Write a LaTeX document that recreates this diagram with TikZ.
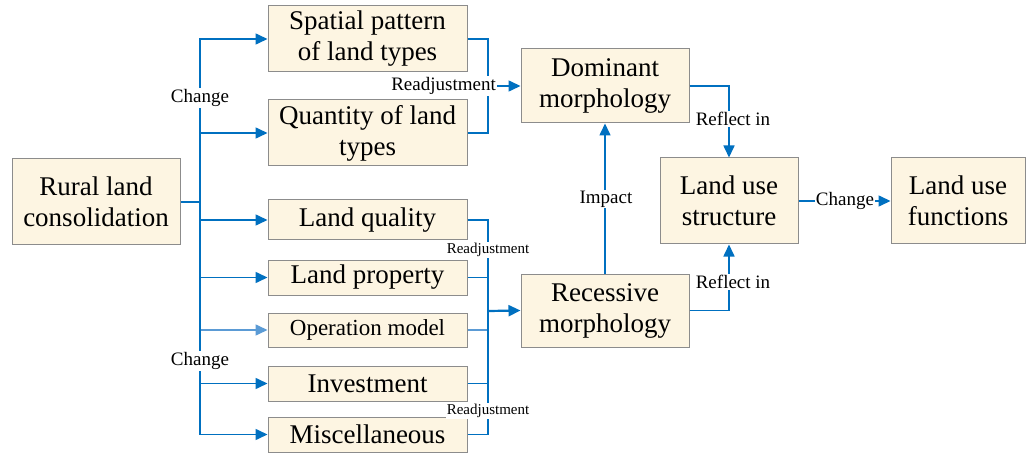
\documentclass[tikz,border=0pt]{standalone}
\usepackage{fontspec}
\setmainfont{Liberation Serif}
\newfontfamily\tnr{Liberation Serif}
\usetikzlibrary{arrows.meta}
\definecolor{boxfill}{RGB}{253,245,226}
\definecolor{boxline}{RGB}{140,140,140}
\definecolor{linkblue}{RGB}{0,112,192}
\definecolor{linklight}{RGB}{91,155,213}
\begin{document}
\begin{tikzpicture}[x=1pt,y=-1pt,
  box/.style={draw=boxline, fill=boxfill, line width=1pt, align=center, inner sep=0pt, font=\tnr\fontsize{27}{31}\selectfont},
  conn/.style={draw=linkblue, line width=1.6pt},
  arr/.style={conn, -{Triangle[length=12pt,width=11pt]}},
  lbl/.style={fill=white, inner sep=1pt, font=\tnr\fontsize{19}{22}\selectfont},
  slbl/.style={fill=white, inner sep=1pt, font=\tnr\fontsize{15}{18}\selectfont}]
\useasboundingbox (0,0) rectangle (1027,454);
\fill[white] (0,0) rectangle (1027,454);
% boxes
\node[box, minimum width=168pt, minimum height=86pt] (rural) at (96,202) {Rural land\\consolidation};
\node[box, minimum width=199pt, minimum height=66pt] (spatial) at (367.5,39) {Spatial pattern\\of land types};
\node[box, minimum width=199pt, minimum height=66pt] (quantity) at (367.5,133) {Quantity of land\\types};
\node[box, minimum width=199pt, minimum height=40pt] (quality) at (367.5,220) {Land quality};
\node[box, minimum width=199pt, minimum height=35pt] (property) at (367.5,277.5) {Land property};
\node[box, minimum width=199pt, minimum height=34pt, font=\tnr\fontsize{23}{27}\selectfont] (operation) at (367.5,330) {Operation model};
\node[box, minimum width=199pt, minimum height=35pt] (investment) at (367.5,383.5) {Investment};
\node[box, minimum width=199pt, minimum height=35pt] (misc) at (367.5,434.5) {Miscellaneous};
\node[box, minimum width=168pt, minimum height=74pt] (dominant) at (605,86) {Dominant\\morphology};
\node[box, minimum width=168pt, minimum height=73pt] (recessive) at (605,310.5) {Recessive\\morphology};
\node[box, minimum width=138pt, minimum height=86pt] (structure) at (729,201) {Land use\\structure};
\node[box, minimum width=134pt, minimum height=86pt] (functions) at (958,201) {Land use\\functions};
% left fan
\coordinate (trunk) at (200,202);
\draw[conn, line width=2.2pt] (rural.east) -- (trunk);
\draw[arr, draw=linklight] (trunk) |- (operation.west);
\foreach \n in {spatial,quantity,quality,property,investment,misc}
  \draw[arr] (trunk) |- (\n.west);
% collectors
\coordinate (c1) at (488,86);
\draw[conn] (spatial.east) -| (c1);
\draw[conn] (quantity.east) -| (c1);
\draw[arr] (c1) -- (dominant.west);
\coordinate (c2) at (488,311);
\draw[conn, draw=linklight] (operation.east) -| (c2);
\foreach \n in {quality,property,investment,misc}
  \draw[conn] (\n.east) -| (c2);
\draw[arr, line width=2.2pt] (c2) -- (recessive.west);
% right side
\draw[arr] (dominant.east) -| (structure.north);
\draw[arr] (recessive.east) -| (structure.south);
\draw[arr] (recessive.north) -- (dominant.south);
\draw[arr] (structure.east) -- (functions.west);
% labels
\node[lbl, anchor=east] (readj1) at (497,86) {Readjustment};
\node[slbl] (readj2) at (488,250) {Readjustment};
\node[slbl] (readj3) at (488,411) {Readjustment};
\node[lbl] (ch1) at (200,98) {Change};
\node[lbl] (ch2) at (200,361) {Change};
\node[lbl] (refl1) at (733,119) {Reflect in};
\node[lbl] (refl2) at (733,282) {Reflect in};
\node[lbl] (impact) at (606,199) {Impact};
\node[lbl] (ch3) at (845,201) {Change};
\end{tikzpicture}
\end{document}
